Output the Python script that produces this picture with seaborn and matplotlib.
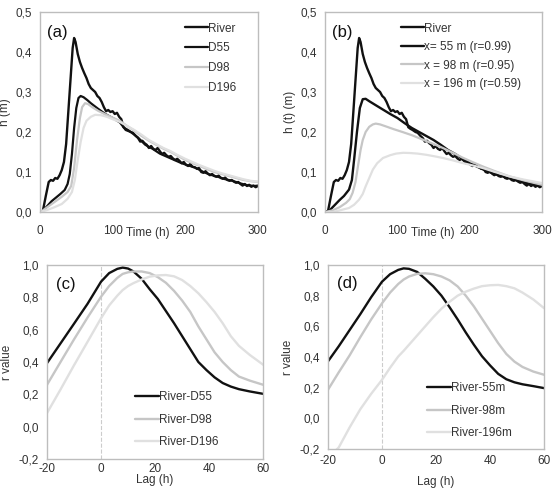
import numpy as np
import seaborn as sns
import matplotlib.pyplot as plt
from matplotlib.ticker import FuncFormatter

# --- data ---
t_river = [0, 4, 8, 12, 15, 18, 21, 24, 27, 30, 33, 36, 39, 42, 45, 47, 49, 52, 55, 58,
           61, 64, 67, 70, 73, 76, 79, 82, 85, 88, 91, 94, 97, 100, 103, 106, 109, 112, 115, 118,
           121, 125, 128, 132, 135, 138, 141, 144, 147, 150, 153, 156, 159, 162, 165, 168, 171, 174, 177, 180,
           183, 186, 189, 192, 195, 198, 201, 204, 207, 210, 213, 216, 219, 222, 225, 228, 231, 234, 237, 240,
           243, 246, 249, 252, 255, 258, 261, 264, 267, 270, 273, 276, 279, 282, 285, 288, 291, 294, 297, 300]
h_river = [0.0, 0.003, 0.04, 0.075, 0.08, 0.078, 0.085, 0.083, 0.092, 0.105, 0.125, 0.17, 0.25, 0.33, 0.41, 0.435, 0.425, 0.395, 0.375, 0.36,
           0.347, 0.335, 0.32, 0.31, 0.305, 0.3, 0.29, 0.285, 0.275, 0.262, 0.252, 0.255, 0.25, 0.252, 0.245, 0.248, 0.238, 0.232, 0.212, 0.208,
           0.205, 0.2, 0.198, 0.19, 0.185, 0.176, 0.178, 0.172, 0.168, 0.16, 0.165, 0.158, 0.155, 0.16, 0.152, 0.145, 0.148, 0.142, 0.138, 0.14,
           0.134, 0.13, 0.133, 0.128, 0.122, 0.125, 0.118, 0.115, 0.12, 0.113, 0.112, 0.108, 0.11, 0.1, 0.098, 0.102, 0.096, 0.092, 0.095, 0.09,
           0.088, 0.091, 0.085, 0.083, 0.086, 0.08, 0.078, 0.08, 0.076, 0.073, 0.075, 0.07, 0.066, 0.07, 0.065, 0.068, 0.063, 0.066, 0.062, 0.065]

t_d55 = [0, 4, 10, 16, 22, 28, 34, 38, 41, 44, 47, 50, 53, 56, 60, 65, 70, 75, 80, 90, 100, 110, 118, 125,
         135, 145, 155, 165, 175, 185, 195, 205, 215, 225, 235, 245, 255, 265, 275, 285, 295, 300]
h_d55 = [0, 0.003, 0.015, 0.027, 0.036, 0.045, 0.055, 0.07, 0.095, 0.145, 0.21, 0.26, 0.285, 0.29, 0.287, 0.28, 0.272, 0.265, 0.258, 0.245, 0.235, 0.224, 0.205, 0.2,
         0.186, 0.168, 0.158, 0.146, 0.138, 0.13, 0.122, 0.116, 0.11, 0.1, 0.093, 0.088, 0.082, 0.078, 0.072, 0.067, 0.065, 0.066]

t_d98 = [0, 4, 10, 20, 30, 38, 43, 47, 51, 55, 58, 62, 66, 72, 80, 90, 100, 110, 120, 130, 140, 150, 160, 170,
         180, 190, 200, 210, 220, 230, 240, 250, 260, 270, 280, 290, 300]
h_d98 = [0, 0.004, 0.012, 0.025, 0.038, 0.05, 0.065, 0.11, 0.18, 0.235, 0.262, 0.272, 0.27, 0.262, 0.253, 0.244, 0.236, 0.228, 0.215, 0.203, 0.19, 0.178, 0.168, 0.158,
         0.15, 0.14, 0.13, 0.122, 0.115, 0.107, 0.1, 0.095, 0.09, 0.085, 0.08, 0.077, 0.075]

t_d196 = [0, 10, 20, 30, 38, 44, 48, 52, 56, 60, 64, 70, 76, 84, 92, 100, 110, 120, 130, 140, 150, 160, 170, 180,
          190, 200, 210, 220, 230, 240, 250, 260, 270, 280, 290, 300]
h_d196 = [0, 0.005, 0.012, 0.02, 0.033, 0.05, 0.08, 0.13, 0.175, 0.21, 0.228, 0.238, 0.243, 0.242, 0.238, 0.232, 0.225, 0.215, 0.205, 0.193, 0.18, 0.17, 0.16, 0.152,
          0.142, 0.133, 0.125, 0.117, 0.11, 0.103, 0.097, 0.092, 0.087, 0.082, 0.078, 0.076]

t_x55 = [0, 5, 12, 20, 26, 33, 37, 40, 44, 48, 52, 56, 61, 70, 80, 90, 100, 110, 120, 130, 140, 150, 160, 170,
         180, 190, 200, 210, 220, 230, 240, 250, 260, 270, 280, 290, 300]
h_x55 = [0, 0.002, 0.015, 0.03, 0.04, 0.056, 0.08, 0.13, 0.2, 0.26, 0.282, 0.283, 0.277, 0.267, 0.256, 0.245, 0.235, 0.222, 0.21, 0.2, 0.19, 0.18, 0.168, 0.155,
         0.145, 0.133, 0.122, 0.114, 0.105, 0.098, 0.092, 0.087, 0.082, 0.077, 0.072, 0.068, 0.066]

t_x98 = [0, 10, 20, 29, 34, 38, 42, 45, 49, 52, 56, 61, 66, 70, 76, 84, 95, 107, 120, 135, 150, 163, 177, 190,
         205, 218, 235, 255, 275, 300]
h_x98 = [0, 0.004, 0.012, 0.023, 0.032, 0.048, 0.075, 0.11, 0.155, 0.18, 0.2, 0.213, 0.219, 0.221, 0.219, 0.214, 0.207, 0.2, 0.192, 0.181, 0.17, 0.16, 0.148, 0.136,
         0.124, 0.114, 0.102, 0.089, 0.079, 0.068]

t_x196 = [0, 10, 20, 33, 40, 47, 52, 56, 61, 66, 72, 80, 90, 98, 108, 117, 128, 140, 152, 163, 177, 190,
          205, 218, 235, 255, 275, 300]
h_x196 = [0, 0.0, 0.004, 0.01, 0.018, 0.031, 0.045, 0.064, 0.085, 0.106, 0.122, 0.135, 0.142, 0.146, 0.148, 0.1475, 0.146, 0.143, 0.139, 0.135, 0.129, 0.1225,
          0.116, 0.11, 0.1, 0.089, 0.081, 0.0725]

lag_c = [-20, -15, -10, -5, 0, 3, 6, 8, 10, 12, 15, 18, 21, 24, 27, 30, 33, 36, 39, 42, 45, 48, 51, 55, 60]
r_d55 = [0.393, 0.515, 0.637, 0.76, 0.897, 0.95, 0.976, 0.984, 0.978, 0.96, 0.915, 0.85, 0.79, 0.715, 0.64, 0.56, 0.48, 0.4, 0.35, 0.305, 0.27, 0.248, 0.232, 0.218, 0.203]
r_d98 = [0.259, 0.40, 0.54, 0.675, 0.804, 0.87, 0.92, 0.945, 0.955, 0.96, 0.96, 0.95, 0.925, 0.89, 0.84, 0.78, 0.71, 0.62, 0.54, 0.46, 0.4, 0.35, 0.31, 0.285, 0.259]
r_d196 = [0.084, 0.23, 0.38, 0.525, 0.671, 0.75, 0.81, 0.845, 0.87, 0.888, 0.91, 0.928, 0.936, 0.938, 0.93, 0.907, 0.87, 0.825, 0.77, 0.71, 0.64, 0.56, 0.5, 0.444, 0.383]

lag_d = [-20, -16, -12, -8, -4, 0, 3, 6, 8, 10, 13, 16, 19, 22, 25, 28, 31, 34, 37, 40, 43, 46, 49, 52, 56, 60]
r_55m = [0.371, 0.47, 0.575, 0.68, 0.79, 0.891, 0.94, 0.968, 0.978, 0.975, 0.955, 0.91, 0.86, 0.8, 0.725, 0.645, 0.56, 0.48, 0.405, 0.345, 0.29, 0.255, 0.235, 0.222, 0.21, 0.197]
r_98m = [0.186, 0.3, 0.41, 0.53, 0.645, 0.75, 0.82, 0.876, 0.905, 0.925, 0.942, 0.946, 0.94, 0.925, 0.9, 0.86, 0.8, 0.73, 0.65, 0.57, 0.49, 0.42, 0.37, 0.335, 0.305, 0.284]
r_196m = [-0.26, -0.19, -0.06, 0.06, 0.16, 0.251, 0.33, 0.403, 0.44, 0.48, 0.54, 0.6, 0.66, 0.715, 0.76, 0.8, 0.826, 0.846, 0.862, 0.868, 0.87, 0.862, 0.848, 0.82, 0.775, 0.718]

labels_a = ['River', 'D55', 'D98', 'D196']
labels_b = ['River', 'x= 55 m (r=0.99)', 'x = 98 m (r=0.95)', 'x = 196 m (r=0.59)']
labels_c = ['River-D55', 'River-D98', 'River-D196']
labels_d = ['River-55m', 'River-98m', 'River-196m']

# --- style ---
sns.set_style("white")
plt.rcParams['font.family'] = ['Liberation Sans', 'DejaVu Sans']
BLACK = '#111111'
GRAY1 = '#c6c6c6'
GRAY2 = '#e0e0e0'
TXT = '#333333'

fig = plt.figure(figsize=(5.53, 5.0), dpi=100)
ax_a = fig.add_axes([0.0723, 0.576, 0.394, 0.400])
ax_b = fig.add_axes([0.588, 0.576, 0.392, 0.400])
ax_c = fig.add_axes([0.085, 0.082, 0.391, 0.388])
ax_d = fig.add_axes([0.593, 0.102, 0.391, 0.368])

comma = FuncFormatter(lambda v, p: f'{v:.1f}'.replace('.', ','))
intfmt = FuncFormatter(lambda v, p: f'{v:.0f}')


def style_axes(ax, xpad):
    for s in ax.spines.values():
        s.set_color('#bdbdbd')
        s.set_linewidth(1.0)
    ax.tick_params(axis='y', labelsize=8.5, colors=TXT, length=0, pad=6)
    ax.tick_params(axis='x', labelsize=8.5, length=2.5, width=0.8,
                   color='#bdbdbd', direction='out', pad=xpad, labelcolor=TXT)
    ax.yaxis.set_major_formatter(comma)
    ax.xaxis.set_major_formatter(intfmt)


# (a)
sns.lineplot(x=t_river, y=h_river, ax=ax_a, color=BLACK, lw=1.7, label=labels_a[0], sort=False)
sns.lineplot(x=t_d55, y=h_d55, ax=ax_a, color=BLACK, lw=1.6, label=labels_a[1], sort=False)
sns.lineplot(x=t_d98, y=h_d98, ax=ax_a, color=GRAY1, lw=1.6, label=labels_a[2], sort=False)
sns.lineplot(x=t_d196, y=h_d196, ax=ax_a, color=GRAY2, lw=1.6, label=labels_a[3], sort=False)

# (b)
sns.lineplot(x=t_river, y=h_river, ax=ax_b, color=BLACK, lw=1.7, label=labels_b[0], sort=False)
sns.lineplot(x=t_x55, y=h_x55, ax=ax_b, color=BLACK, lw=1.7, label=labels_b[1], sort=False)
sns.lineplot(x=t_x98, y=h_x98, ax=ax_b, color=GRAY1, lw=1.6, label=labels_b[2], sort=False)
sns.lineplot(x=t_x196, y=h_x196, ax=ax_b, color=GRAY2, lw=1.6, label=labels_b[3], sort=False)

for ax, lab, txt in [(ax_a, 'h (m)', '(a)'), (ax_b, 'h (t) (m)', '(b)')]:
    ax.set_xlim(0, 300)
    ax.set_ylim(0, 0.5)
    ax.set_xticks([0, 100, 200, 300])
    ax.set_yticks([0, 0.1, 0.2, 0.3, 0.4, 0.5])
    style_axes(ax, 6.5)
    ax.set_xlabel('')
    ax.set_ylabel(lab, fontsize=8.5, color=TXT, labelpad=3)
    ax.text(0.495, -0.104, 'Time (h)', transform=ax.transAxes,
            ha='center', va='center', fontsize=8.5, color=TXT)
    ax.text(0.03, 0.9, txt, transform=ax.transAxes, fontsize=12, va='center', color='#111111')

ax_a.legend(loc='upper left', bbox_to_anchor=(0.615, 1.0), frameon=False, fontsize=8.5,
            handlelength=2.0, handletextpad=0.0, labelspacing=0.65, labelcolor=TXT)
ax_b.legend(loc='upper left', bbox_to_anchor=(0.30, 1.0), frameon=False, fontsize=8.5,
            handlelength=2.0, handletextpad=0.0, labelspacing=0.55, labelcolor=TXT)

# (c)
sns.lineplot(x=lag_c, y=r_d55, ax=ax_c, color=BLACK, lw=1.7, label=labels_c[0], sort=False)
sns.lineplot(x=lag_c, y=r_d98, ax=ax_c, color=GRAY1, lw=1.7, label=labels_c[1], sort=False)
sns.lineplot(x=lag_c, y=r_d196, ax=ax_c, color=GRAY2, lw=1.7, label=labels_c[2], sort=False)

# (d)
sns.lineplot(x=lag_d, y=r_55m, ax=ax_d, color=BLACK, lw=1.7, label=labels_d[0], sort=False)
sns.lineplot(x=lag_d, y=r_98m, ax=ax_d, color=GRAY1, lw=1.7, label=labels_d[1], sort=False)
sns.lineplot(x=lag_d, y=r_196m, ax=ax_d, color=GRAY2, lw=1.7, label=labels_d[2], sort=False)

for ax, txt, tp, lp in [(ax_c, '(c)', 3, -1), (ax_d, '(d)', 4, 7)]:
    ax.axvline(0, color='#cccccc', lw=0.8, ls='--', zorder=0)
    ax.set_xlim(-20, 60)
    ax.set_ylim(-0.2, 1.0)
    ax.set_xticks([-20, 0, 20, 40, 60])
    ax.set_yticks([-0.2, 0.0, 0.2, 0.4, 0.6, 0.8, 1.0])
    style_axes(ax, tp)
    ax.tick_params(axis='x', length=0)
    ax.set_xlabel('Lag (h)', fontsize=8.5, color=TXT, labelpad=lp)
    ax.set_ylabel('r value', fontsize=8.5, color=TXT, labelpad=4)
    ax.text(0.04, 0.9, txt, transform=ax.transAxes, fontsize=12, va='center', color='#111111')

ax_c.legend(loc='lower left', bbox_to_anchor=(0.36, 0.0), frameon=False, fontsize=8.5,
            handlelength=2.0, handletextpad=0.0, labelspacing=0.9, labelcolor=TXT)
ax_d.legend(loc='lower left', bbox_to_anchor=(0.41, -0.005), frameon=False, fontsize=8.5,
            handlelength=2.0, handletextpad=0.0, labelspacing=0.9, labelcolor=TXT)

fig.savefig('out.png', dpi=100)
